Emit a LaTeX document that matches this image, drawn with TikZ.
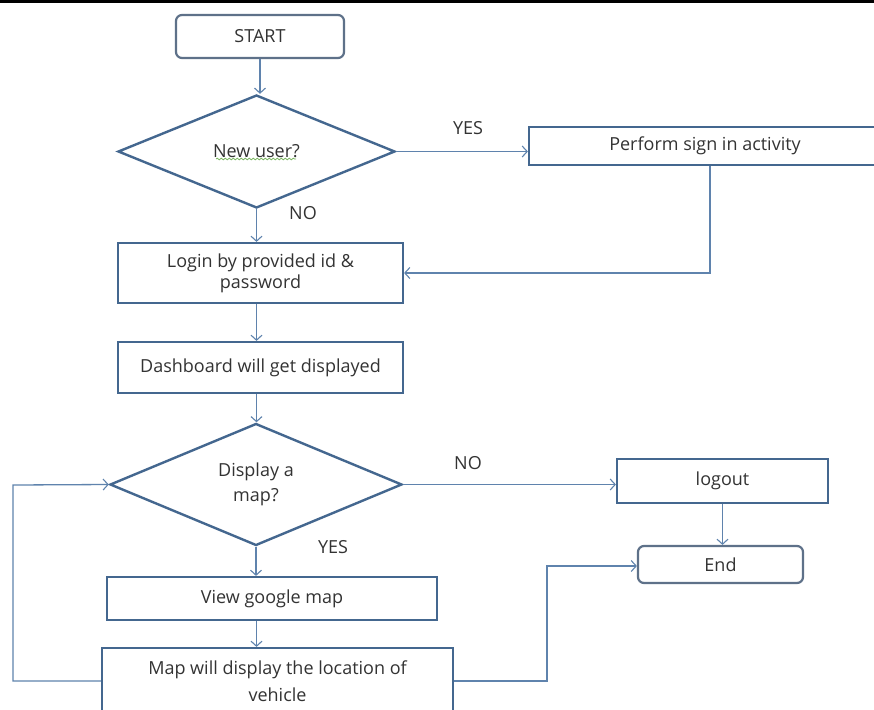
\documentclass[tikz,border=0pt]{standalone}
\usepackage{fontspec}
\setmainfont{Open Sans}
\usetikzlibrary{shapes.geometric,arrows.meta,decorations.pathmorphing}
\definecolor{boxc}{HTML}{44678F}
\definecolor{termc}{HTML}{5E7189}
\definecolor{linec}{HTML}{5F83AD}
\definecolor{txt}{HTML}{333333}
\definecolor{squig}{HTML}{7BB661}
\tikzset{
  box/.style={draw=boxc, line width=2.2pt, fill=white, text=txt, align=center, inner sep=0pt, font=\fontsize{18}{25}\selectfont},
  term/.style={box, draw=termc, rounded corners=6pt},
  dec/.style={box, shape=diamond, line width=2.4pt},
  lbl/.style={text=txt, inner sep=0pt, font=\fontsize{18}{20}\selectfont},
  conn/.style={draw=linec, line width=1.3pt},
  arr/.style={conn, -{Straight Barb[length=5pt,width=11pt,line width=1.1pt]}}
}
\begin{document}
\begin{tikzpicture}[x=1pt,y=-1pt]
\clip (0,0) rectangle (874,709);
\useasboundingbox (0,0) rectangle (874,709);
\fill[white] (0,0) rectangle (874,709);
\fill[black] (0,0) rectangle (874,2.6);

% nodes
\node[term, minimum width=168, minimum height=43] (start) at (260,36.5) {START};
\node[dec, minimum width=277, minimum height=113] (d1) at (256.5,151.5) {New user?};
\node[box, minimum width=352, minimum height=38] (signin) at (705,146) {Perform sign in activity};
\node[box, minimum width=285, minimum height=60] (login) at (260.5,273) {Login by provided id \&\\[-4pt]password};
\node[box, minimum width=285, minimum height=51] (dash) at (260.5,367.5) {Dashboard will get displayed};
\node[dec, minimum width=292, minimum height=122] (d2) at (256,484.5) {Display a\\map?};
\node[box, minimum width=211, minimum height=44] (logout) at (722.5,481) {logout};
\node[term, minimum width=165, minimum height=37] (end) at (720.5,564.5) {End};
\node[box, minimum width=330, minimum height=43] (view) at (272,598.5) {View google map};
\node[box, minimum width=351, minimum height=66] (map) at (277.5,681) {Map will display the location of\\[2pt]vehicle};
\draw[squig, line width=0.8pt, decorate, decoration={snake, amplitude=0.8pt, segment length=4pt}] (216,159) -- (296,159);

% labels
\node[lbl] (yes1) at (468,128) {YES};
\node[lbl] (no1) at (303,213) {NO};
\node[lbl] (yes2) at (333,547) {YES};
\node[lbl] (no2) at (468,463) {NO};

% helper coordinates
\coordinate (sr) at (710,165);
\coordinate (lp) at (13,485);
\coordinate (er) at (547,566);

% connectors
\draw[arr] (start.south) -- (start.south |- d1.north);
\draw[arr] (d1.east) -- (d1.east -| signin.west);
\draw[arr] (signin.south -| sr) |- (login.east);
\draw[arr] (d1.south) -- (d1.south |- login.north);
\draw[arr] (login.south -| d1.south) -- (d1.south |- dash.north);
\draw[arr] (dash.south -| d1.south) -- (d1.south |- d2.north);
\draw[arr] (d2.east) -- (d2.east -| logout.west);
\draw[arr] (d2.south) -- (d2.south |- view.north);
\draw[arr] (view.south -| d1.south) -- (d1.south |- map.north);
\draw[arr] (logout.south) -- (logout.south |- end.north);
\draw[arr] (map.east) -| (er) -- (er -| end.west);
\draw[arr] (map.west) -| (lp) -- (d2.west);
\end{tikzpicture}
\end{document}
